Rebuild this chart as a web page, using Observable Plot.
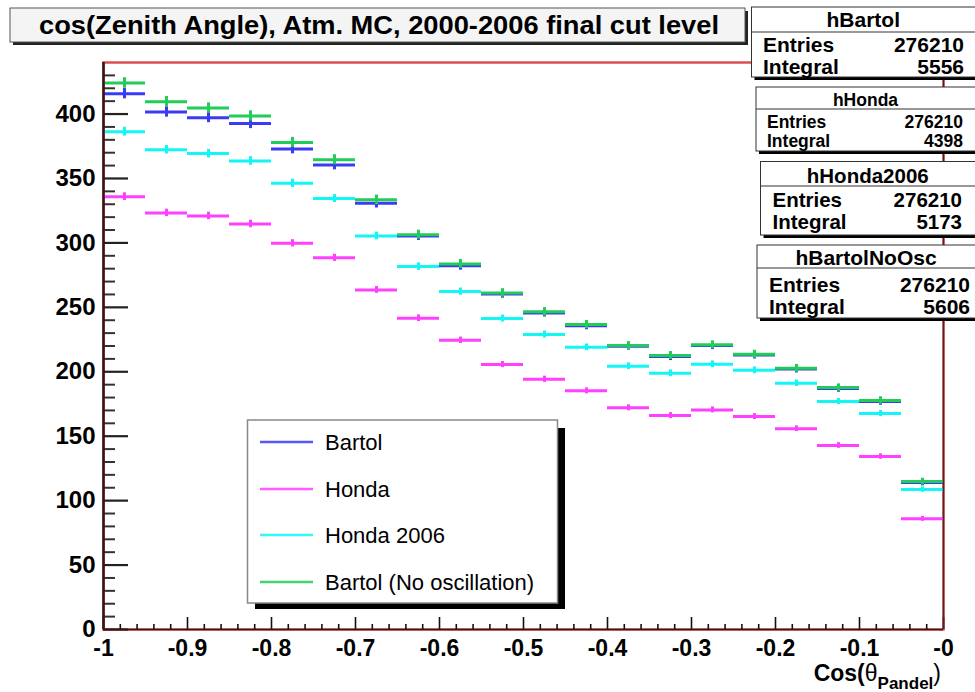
<!DOCTYPE html>
<html>
<head>
<meta charset="utf-8">
<script src="https://cdn.jsdelivr.net/npm/d3@7"></script>
<script src="https://cdn.jsdelivr.net/npm/@observablehq/plot@0.6"></script>
<style>
  html, body { margin: 0; padding: 0; background: #fff; }
</style>
</head>
<body>
<div id="chart"></div>
<script>
// ---------- data ----------
const chartTitle = "cos(Zenith Angle), Atm. MC, 2000-2006 final cut level";
const binCenters = [-0.975, -0.925, -0.875, -0.825, -0.775, -0.725, -0.675, -0.625, -0.575, -0.525,
                    -0.475, -0.425, -0.375, -0.325, -0.275, -0.225, -0.175, -0.125, -0.075, -0.025];
const binHalfWidth = 0.025;

const bartol      = [415.8, 401.6, 397.2, 392.6, 372.9, 360.5, 330.7, 305.4, 282.2, 260.4,
                     245.7, 235.8, 219.9, 211.8, 220.3, 213.0, 202.1, 187.0, 176.9, 114.1];
const honda       = [335.9, 323.3, 320.9, 314.7, 299.7, 288.4, 263.5, 241.5, 224.4, 205.6,
                     194.2, 185.2, 172.0, 166.0, 170.4, 165.2, 155.8, 142.8, 134.2, 85.9];
const honda2006   = [386.3, 372.3, 369.3, 363.6, 346.2, 334.4, 305.4, 281.6, 262.2, 241.3,
                     228.9, 219.0, 204.3, 198.8, 205.8, 201.1, 191.1, 176.9, 167.6, 108.6];
const bartolNoOsc = [424.1, 409.6, 404.7, 398.5, 378.0, 364.6, 333.4, 306.4, 283.7, 261.2,
                     246.5, 236.6, 220.3, 212.6, 220.9, 213.6, 202.7, 187.7, 177.7, 114.8];

const bartolErr      = [4.0, 4.0, 3.9, 3.9, 3.8, 3.8, 3.6, 3.5, 3.4, 3.3, 3.2, 3.2, 3.1, 3.1, 3.1, 3.1, 3.0, 2.9, 2.9, 2.6];
const hondaErr       = [3.0, 2.9, 2.9, 2.9, 2.8, 2.8, 2.7, 2.6, 2.5, 2.4, 2.4, 2.3, 2.3, 2.3, 2.3, 2.3, 2.2, 2.2, 2.1, 1.9];
const honda2006Err   = [3.4, 3.3, 3.3, 3.3, 3.2, 3.1, 3.0, 2.9, 2.8, 2.7, 2.7, 2.6, 2.6, 2.6, 2.6, 2.6, 2.5, 2.4, 2.4, 2.1];
const bartolNoOscErr = [4.1, 4.0, 4.0, 4.0, 3.9, 3.8, 3.7, 3.5, 3.4, 3.3, 3.3, 3.2, 3.1, 3.1, 3.1, 3.1, 3.0, 2.9, 2.9, 2.6];

const seriesNames  = ["Bartol", "Honda", "Honda 2006", "Bartol (No oscillation)"];
const seriesColors = ["#3b3bf6", "#ff40ff", "#12f6f6", "#22cc58"];

const statNames     = ["hBartol", "hHonda", "hHonda2006", "hBartolNoOsc"];
const statEntries   = [276210, 276210, 276210, 276210];
const statIntegrals = [5556, 4398, 5173, 5606];

const yMajorTicks = [0, 50, 100, 150, 200, 250, 300, 350, 400];
const yMinorTicks = [10, 20, 30, 40, 60, 70, 80, 90, 110, 120, 130, 140, 160, 170, 180, 190, 210, 220, 230, 240,
                     260, 270, 280, 290, 310, 320, 330, 340, 360, 370, 380, 390, 410, 420, 430];
const xMajorTicks = [-1, -0.9, -0.8, -0.7, -0.6, -0.5, -0.4, -0.3, -0.2, -0.1, 0];
const xTickLabels = ["-1", "-0.9", "-0.8", "-0.7", "-0.6", "-0.5", "-0.4", "-0.3", "-0.2", "-0.1", "-0"];
const xMinorTicks = [];
xMajorTicks.slice(0, -1).forEach(t => [0.02, 0.04, 0.06, 0.08].forEach(o => xMinorTicks.push(t + o)));

// ---------- layout ----------
const W = 975, H = 692, mL = 103, mR = 32, mT = 62, mB = 63;
const xDomain = [-1, 0], yDomain = [0, 440];
const unitsPerPxX = (xDomain[1] - xDomain[0]) / (W - mL - mR);
const unitsPerPxY = (yDomain[1] - yDomain[0]) / (H - mT - mB);

// ---------- build tables ----------
const seriesValues = [bartol, honda, honda2006, bartolNoOsc];
const seriesErrors = [bartolErr, hondaErr, honda2006Err, bartolNoOscErr];
const rows = [];
seriesValues.forEach((vals, s) => {
  vals.forEach((v, i) => {
    rows.push({
      series: seriesNames[s], s,
      c: binCenters[i], lo: binCenters[i] - binHalfWidth, hi: binCenters[i] + binHalfWidth,
      v, e1: v - seriesErrors[s][i], e2: v + seriesErrors[s][i]
    });
  });
});

const dataMarks = [];
seriesNames.forEach((name, s) => {
  const d = rows.filter(r => r.s === s);
  dataMarks.push(Plot.ruleY(d, {y: "v", x1: "lo", x2: "hi", stroke: seriesColors[s], strokeWidth: 3}));
  dataMarks.push(Plot.ruleX(d, {x: "c", y1: "e1", y2: "e2", stroke: seriesColors[s], strokeWidth: 3}));
});

const chart = Plot.plot({
  width: W,
  height: H,
  marginLeft: mL,
  marginRight: mR,
  marginTop: mT,
  marginBottom: mB,
  style: {fontFamily: "'Liberation Sans', Arial, Helvetica, sans-serif", background: "white"},
  x: {domain: xDomain},
  y: {domain: yDomain},
  marks: [
    Plot.frame({stroke: "#d85050", strokeWidth: 2.5}),
    ...dataMarks,
    // inside ticks
    Plot.ruleY(yMajorTicks, {y: d => d, x1: -1, x2: -1 + 25 * unitsPerPxX, stroke: "#222", strokeWidth: 2.2}),
    Plot.ruleY(yMinorTicks, {y: d => d, x1: -1, x2: -1 + 12 * unitsPerPxX, stroke: "#333", strokeWidth: 2}),
    Plot.ruleX(xMajorTicks, {x: d => d, y1: 0, y2: 12 * unitsPerPxY, stroke: "#111", strokeWidth: 1.6}),
    Plot.ruleX(xMinorTicks, {x: d => d, y1: 0, y2: 5 * unitsPerPxY, stroke: "#111", strokeWidth: 1.6}),
    Plot.ruleX([-1], {stroke: "#3a1515", strokeWidth: 2.5}),
    Plot.ruleX([0], {stroke: "#5a2020", strokeWidth: 1.5}),
    Plot.ruleY([0], {stroke: "#3a1515", strokeWidth: 1.5}),
    // tick labels
    Plot.axisY({ticks: yMajorTicks, tickSize: 0, tickPadding: 8, fontSize: 24, fontWeight: "bold", label: null, tickFormat: d => String(d)}),
    Plot.axisX({ticks: xMajorTicks, tickSize: 0, tickPadding: 10, fontSize: 23, fontWeight: "bold", label: null,
                tickFormat: d => xTickLabels[Math.round((d + 1) * 10)]})
  ]
});

document.getElementById("chart").appendChild(chart);
const svg = d3.select(chart);

// ---------- ROOT-style decorations: title, stat boxes, legend, axis title ----------
const tg = svg.append("g");
tg.append("rect").attr("x", 13).attr("y", 11).attr("width", 735).attr("height", 34).attr("fill", "#222");
tg.append("rect").attr("x", 10).attr("y", 8).attr("width", 735).attr("height", 34)
  .attr("fill", "#f4f4f4").attr("stroke", "#555").attr("stroke-width", 1);
tg.append("text").attr("x", 379).attr("y", 34).attr("text-anchor", "middle")
  .attr("font-size", 26).attr("font-weight", "bold").attr("fill", "#000")
  .attr("textLength", 680).attr("lengthAdjust", "spacingAndGlyphs")
  .text(chartTitle);

const statLayout = [
  {x: 751.5, y: 7,     bottom: 77,  line: 32,  head: 27,    fs: 21,   r1: 52,    r2: 74,    lx: 763,   nx: 964},
  {x: 756,   y: 87,    bottom: 151, line: 109, head: 105.5, fs: 17.5, r1: 128,   r2: 146.5, lx: 767,   nx: 963},
  {x: 760.5, y: 161.5, bottom: 235, line: 186, head: 182.5, fs: 20.5, r1: 206.5, r2: 229,   lx: 772.5, nx: 962},
  {x: 757,   y: 245,   bottom: 318, line: 268, head: 265,   fs: 21,   r1: 291.5, r2: 313.5, lx: 769,   nx: 970}
];
statLayout.forEach((L, i) => {
  const g = svg.append("g").attr("font-weight", "bold").attr("fill", "#000");
  g.append("rect").attr("x", L.x + 3).attr("y", L.y + 3).attr("width", 990 - L.x).attr("height", L.bottom - L.y).attr("fill", "#000");
  g.append("rect").attr("x", L.x).attr("y", L.y).attr("width", 990 - L.x).attr("height", L.bottom - L.y)
    .attr("fill", "#fff").attr("stroke", "#333").attr("stroke-width", 1);
  g.append("line").attr("x1", L.x).attr("x2", 990).attr("y1", L.line).attr("y2", L.line).attr("stroke", "#333");
  g.append("text").attr("x", (L.x + 975) / 2).attr("y", L.head).attr("text-anchor", "middle").attr("font-size", L.fs).text(statNames[i]);
  g.append("text").attr("x", L.lx).attr("y", L.r1).attr("text-anchor", "start").attr("font-size", L.fs).text("Entries");
  g.append("text").attr("x", L.nx).attr("y", L.r1).attr("text-anchor", "end").attr("font-size", L.fs).text(String(statEntries[i]));
  g.append("text").attr("x", L.lx).attr("y", L.r2).attr("text-anchor", "start").attr("font-size", L.fs).text("Integral");
  g.append("text").attr("x", L.nx).attr("y", L.r2).attr("text-anchor", "end").attr("font-size", L.fs).text(String(statIntegrals[i]));
});

const lg = svg.append("g");
lg.append("rect").attr("x", 255).attr("y", 428).attr("width", 310).attr("height", 181).attr("fill", "#000");
lg.append("rect").attr("x", 247.5).attr("y", 420).attr("width", 310).attr("height", 183)
  .attr("fill", "#fff").attr("stroke", "#888").attr("stroke-width", 1.5);
const legendY = [442, 489, 535, 582];
seriesNames.forEach((name, i) => {
  lg.append("line").attr("x1", 260).attr("x2", 313).attr("y1", legendY[i]).attr("y2", legendY[i])
    .attr("stroke", seriesColors[i]).attr("stroke-width", 2.5).attr("stroke-opacity", 0.85);
  lg.append("text").attr("x", 325).attr("y", legendY[i] + 8).attr("text-anchor", "start")
    .attr("font-size", 22).attr("fill", "#000").text(name);
});

const at = svg.append("text").attr("x", 941).attr("y", 681).attr("text-anchor", "end")
  .attr("font-size", 23).attr("font-weight", "bold").attr("fill", "#000");
at.append("tspan").text("Cos(");
at.append("tspan").attr("font-weight", "normal").text("θ");
at.append("tspan").attr("font-size", 17).attr("dy", 8).text("Pandel");
at.append("tspan").attr("font-weight", "normal").attr("dy", -8).text(")");
</script>
</body>
</html>
